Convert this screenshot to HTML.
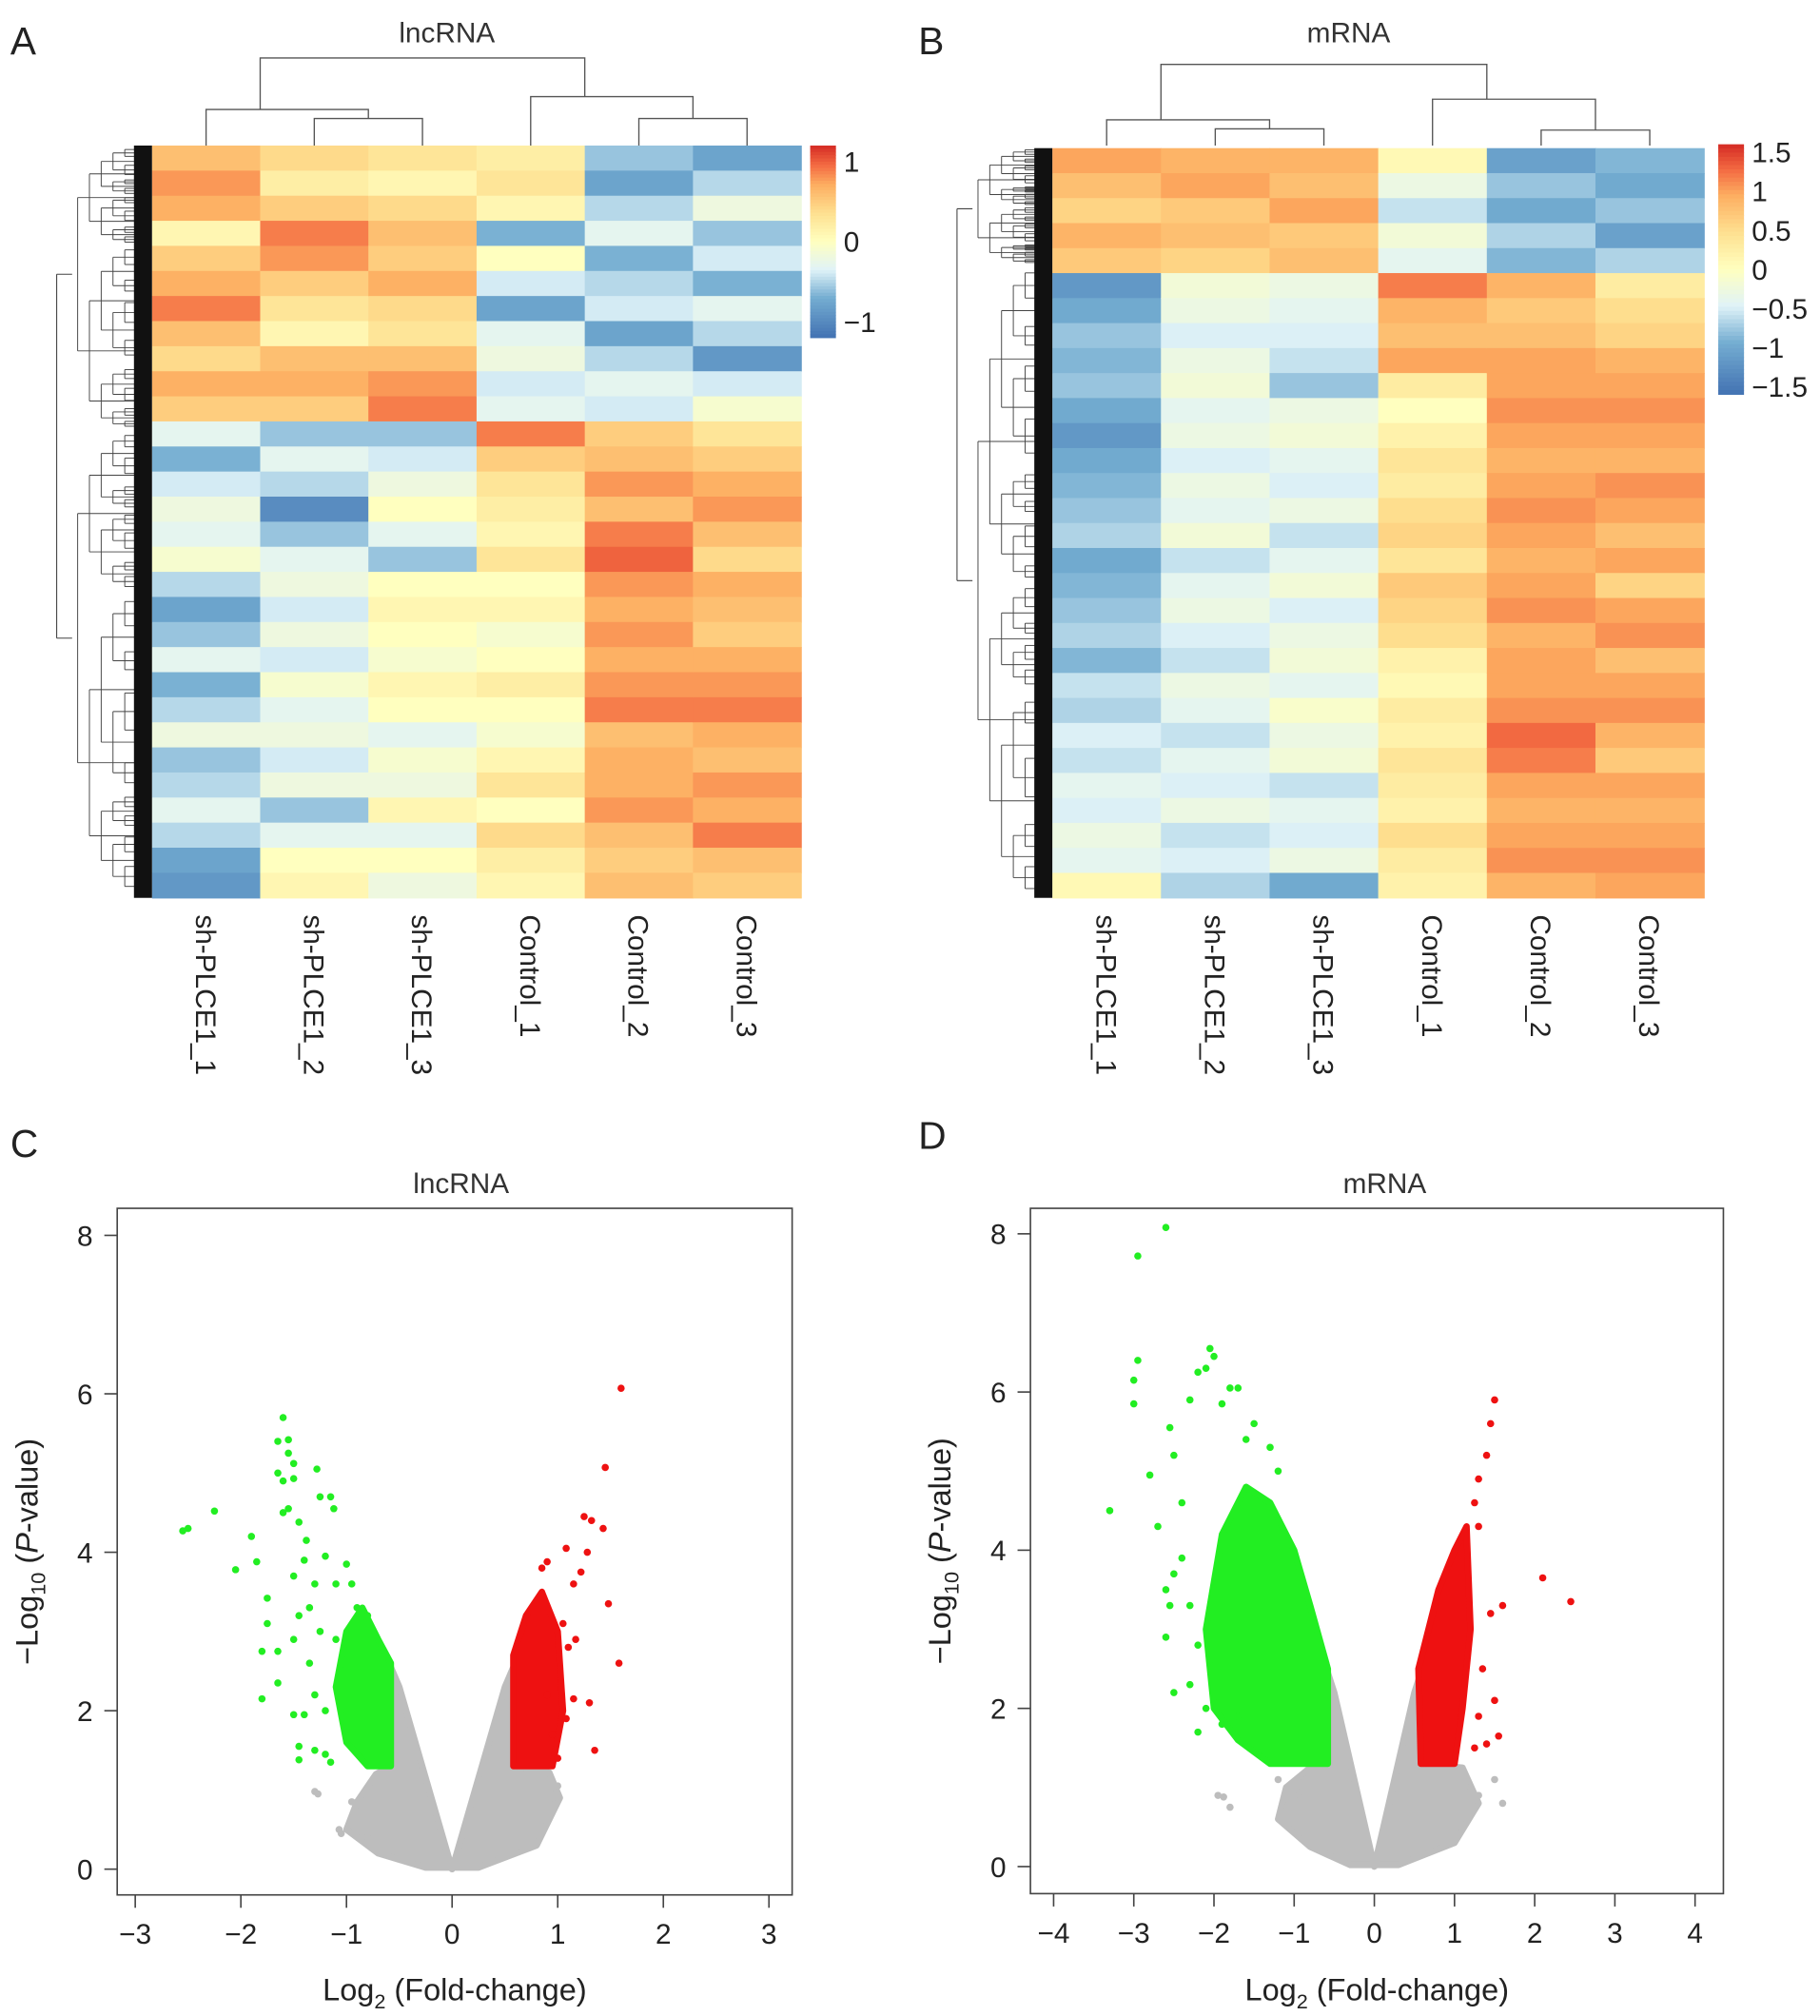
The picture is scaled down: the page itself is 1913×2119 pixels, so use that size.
<!DOCTYPE html>
<html><head><meta charset="utf-8">
<style>
html,body{margin:0;padding:0;background:#fff;}
svg{display:block;font-family:"Liberation Sans",sans-serif;}
</style></head>
<body>
<svg id="fig" width="1913" height="2119" viewBox="0 0 1413 1565" preserveAspectRatio="none" xmlns="http://www.w3.org/2000/svg">
<rect width="1413" height="1565" fill="#fff"/>
<g id="gA"></g>
<g id="gB"></g>
<g id="gC"></g>
<g id="gD"></g>
</svg>
<script>
const sampleNames = ["sh-PLCE1_1","sh-PLCE1_2","sh-PLCE1_3","Control_1","Control_2","Control_3"];
const lncValues = [
 [0.6,0.8,0.7,0.1,0.5,0.7,0.9,0.6,0.4,0.7,0.5,-0.3,-0.7,-0.4,-0.2,-0.3,-0.1,-0.5,-0.8,-0.6,-0.3,-0.7,-0.5,-0.2,-0.6,-0.5,-0.3,-0.5,-0.8,-0.9],
 [0.4,0.2,0.5,0.9,0.8,0.5,0.3,0.1,0.6,0.7,0.5,-0.6,-0.3,-0.5,-1.0,-0.6,-0.3,-0.2,-0.4,-0.2,-0.4,-0.1,-0.3,-0.2,-0.4,-0.2,-0.6,-0.3,0.0,0.1],
 [0.3,0.1,0.4,0.6,0.5,0.7,0.4,0.3,0.6,0.8,0.9,-0.6,-0.4,-0.2,0.0,-0.3,-0.6,0.0,0.1,0.0,-0.1,0.1,0.0,-0.3,-0.1,-0.2,0.1,-0.3,0.0,-0.2],
 [0.2,0.3,0.1,-0.7,0.0,-0.4,-0.8,-0.3,-0.2,-0.4,-0.3,0.9,0.5,0.3,0.2,0.1,0.3,0.0,0.1,-0.1,0.0,0.2,0.0,-0.1,0.1,0.3,0.0,0.4,0.2,0.1],
 [-0.6,-0.8,-0.5,-0.3,-0.7,-0.5,-0.4,-0.8,-0.5,-0.3,-0.4,0.5,0.6,0.8,0.6,0.9,1.0,0.8,0.7,0.8,0.7,0.8,0.9,0.6,0.7,0.7,0.8,0.6,0.5,0.6],
 [-0.8,-0.5,-0.2,-0.6,-0.4,-0.7,-0.3,-0.5,-0.9,-0.4,-0.1,0.3,0.5,0.7,0.8,0.6,0.4,0.7,0.6,0.5,0.7,0.8,0.9,0.7,0.6,0.8,0.7,0.9,0.6,0.5]
];
const mValues = [
 [1.0,0.8,0.6,0.9,0.7,-1.2,-1.0,-0.8,-0.9,-0.8,-1.0,-1.2,-1.0,-0.9,-0.8,-0.7,-1.0,-0.9,-0.8,-0.7,-0.9,-0.6,-0.7,-0.5,-0.6,-0.4,-0.5,-0.3,-0.4,0.1],
 [0.9,1.0,0.7,0.8,0.6,-0.2,-0.3,-0.5,-0.3,-0.2,-0.4,-0.3,-0.5,-0.3,-0.4,-0.2,-0.6,-0.4,-0.3,-0.5,-0.6,-0.3,-0.4,-0.6,-0.4,-0.5,-0.3,-0.6,-0.5,-0.7],
 [0.9,0.8,1.0,0.7,0.8,-0.3,-0.4,-0.5,-0.6,-0.8,-0.3,-0.2,-0.4,-0.5,-0.3,-0.6,-0.4,-0.2,-0.5,-0.3,-0.2,-0.4,-0.1,-0.3,-0.2,-0.6,-0.4,-0.5,-0.3,-1.0],
 [0.1,-0.3,-0.6,-0.2,-0.4,1.2,0.9,0.8,1.0,0.3,0.0,0.2,0.4,0.3,0.5,0.6,0.4,0.7,0.6,0.5,0.2,0.1,0.3,0.2,0.4,0.3,0.2,0.5,0.3,0.2],
 [-1.1,-0.8,-1.0,-0.7,-0.9,0.9,0.7,0.8,1.0,1.0,1.1,1.0,0.9,1.0,1.1,1.0,0.9,1.0,1.1,0.9,1.0,1.0,1.1,1.3,1.2,1.0,0.9,1.0,1.1,0.9],
 [-0.9,-1.0,-0.8,-1.1,-0.7,0.3,0.5,0.6,0.9,1.0,1.1,1.0,0.9,1.1,1.0,0.8,1.0,0.6,1.0,1.1,0.8,1.0,1.1,0.9,0.7,1.0,0.9,1.0,1.1,1.0]
];
const lncLegendTicks = [1,0,-1];
const mLegendTicks = [1.5,1,0.5,0,-0.5,-1,-1.5];
const volcXTicksC = [-3,-2,-1,0,1,2,3];
const volcXTicksD = [-4,-3,-2,-1,0,1,2,3,4];
const volcYTicks = [0,2,4,6,8];
const cGray = [[0,0],[-0.5,2.3],[-0.58,2.55],[-0.58,1.3],[-0.72,1.2],[-0.9,0.85],[-1.0,0.5],[-0.7,0.2],[-0.25,0.02],[0.25,0.02],[0.8,0.3],[1.02,0.9],[0.92,1.22],[0.58,1.3],[0.58,2.55],[0.5,2.3]];
const cGreenDense = [[-0.58,1.3],[-0.58,2.6],[-0.7,2.9],[-0.85,3.3],[-1.0,3.0],[-1.1,2.3],[-1.0,1.6],[-0.8,1.3]];
const cRedDense = [[0.58,1.3],[0.58,2.7],[0.7,3.2],[0.85,3.5],[1.0,3.0],[1.05,2.0],[0.95,1.3]];
const cGreenPts = [[-2.55,4.27],[-2.5,4.3],[-2.25,4.52],[-2.05,3.78],[-1.9,4.2],[-1.85,3.88],[-1.75,3.42],[-1.75,3.1],[-1.8,2.75],[-1.8,2.15],[-1.65,2.75],[-1.65,2.35],[-1.6,5.7],[-1.65,5.4],[-1.55,5.42],[-1.55,5.25],[-1.65,5.0],[-1.6,4.9],[-1.5,5.12],[-1.5,4.93],[-1.6,4.5],[-1.55,4.55],[-1.28,5.05],[-1.45,4.38],[-1.38,4.15],[-1.25,4.7],[-1.15,4.7],[-1.12,4.55],[-1.4,3.9],[-1.5,3.7],[-1.3,3.6],[-1.2,3.95],[-1.45,3.2],[-1.5,2.9],[-1.35,2.6],[-1.5,1.95],[-1.4,1.95],[-1.45,1.55],[-1.45,1.38],[-1.3,1.5],[-1.2,1.45],[-1.15,1.35],[-1.3,2.2],[-1.2,2.0],[-1.1,3.6],[-1.0,3.85],[-0.95,3.6],[-1.1,2.9],[-0.9,3.3],[-0.8,3.2],[-1.25,3.0],[-1.35,3.3]];
const cRedPts = [[1.6,6.07],[1.45,5.07],[1.25,4.45],[1.32,4.4],[1.43,4.3],[1.08,4.05],[1.28,4.0],[0.9,3.88],[1.22,3.75],[0.85,3.8],[1.15,3.6],[1.48,3.35],[1.05,3.1],[1.17,2.9],[1.1,2.8],[1.58,2.6],[1.3,2.1],[1.15,2.15],[1.35,1.5],[1.0,1.4],[0.95,1.7],[1.08,1.9],[0.9,2.2]];
const cGrayPts = [[-1.3,0.98],[-1.27,0.95],[-1.05,0.45],[-1.07,0.5],[-0.95,0.85],[-0.85,0.6],[-0.8,0.4],[0.95,0.9],[0.9,0.6],[1.0,1.05]];
const dGray = [[0,0],[-0.5,2.2],[-0.58,2.45],[-0.58,1.3],[-0.8,1.25],[-1.1,1.0],[-1.2,0.6],[-0.8,0.25],[-0.3,0.02],[0.3,0.02],[1.0,0.3],[1.3,0.8],[1.1,1.25],[0.58,1.3],[0.58,2.45],[0.5,2.2]];
const dGreenDense = [[-0.58,1.3],[-0.58,2.5],[-0.8,3.3],[-1.0,4.0],[-1.3,4.6],[-1.6,4.8],[-1.9,4.2],[-2.1,3.0],[-2.0,2.0],[-1.7,1.6],[-1.3,1.3]];
const dRedDense = [[0.58,1.3],[0.55,2.5],[0.8,3.5],[1.0,4.0],[1.15,4.3],[1.2,3.0],[1.1,2.0],[1.0,1.3]];
const dGreenPts = [[-2.6,8.08],[-2.95,7.72],[-2.95,6.4],[-3.0,6.15],[-3.0,5.85],[-3.3,4.5],[-2.8,4.95],[-2.7,4.3],[-2.55,5.55],[-2.5,5.2],[-2.4,4.6],[-2.05,6.55],[-2.0,6.45],[-2.1,6.3],[-2.2,6.25],[-1.8,6.05],[-1.7,6.05],[-1.9,5.85],[-2.3,5.9],[-2.4,3.9],[-2.5,3.7],[-2.55,3.3],[-2.6,2.9],[-2.3,3.3],[-2.2,2.8],[-2.3,2.3],[-2.1,2.0],[-1.9,1.8],[-1.7,1.9],[-1.5,5.6],[-1.3,5.3],[-1.2,5.0],[-1.6,5.4],[-2.6,3.5],[-2.5,2.2],[-2.2,1.7]];
const dRedPts = [[1.5,5.9],[1.45,5.6],[1.4,5.2],[1.3,4.9],[1.25,4.6],[1.3,4.3],[2.45,3.35],[2.1,3.65],[1.6,3.3],[1.45,3.2],[1.35,2.5],[1.5,2.1],[1.55,1.65],[1.3,1.9],[1.4,1.55],[1.25,1.5]];
const dGrayPts = [[-1.95,0.9],[-1.88,0.88],[-1.8,0.75],[-1.0,0.9],[-0.9,0.95],[-1.2,1.1],[1.5,1.1],[1.3,0.9],[1.2,1.0],[1.6,0.8]];

const NS = "http://www.w3.org/2000/svg";
function mk(parent, tag, attrs, text){
  const e = document.createElementNS(NS, tag);
  for (const k in attrs) e.setAttribute(k, attrs[k]);
  if (text !== undefined) e.textContent = text;
  parent.appendChild(e);
  return e;
}
const stops = [[-1,[69,117,180]],[-0.6,[116,173,209]],[-0.3,[224,243,248]],[0,[255,255,191]],[0.3,[254,224,144]],[0.6,[253,174,97]],[0.8,[244,109,67]],[1,[215,48,39]]];
function colorFor(t){
  t = Math.max(-1, Math.min(1, t));
  for (let i=0;i<stops.length-1;i++){
    const a=stops[i], b=stops[i+1];
    if (t>=a[0] && t<=b[0]){
      const f=(t-a[0])/(b[0]-a[0]);
      const c=a[1].map((v,j)=>Math.round(v+(b[1][j]-v)*f));
      return "rgb("+c.join(",")+")";
    }
  }
  return "rgb(215,48,39)";
}
function dendro(g, x0, x1, yTop, yBot, depth, maxDepth){
  const ym = (yTop+yBot)/2;
  if (depth >= maxDepth) return ym;
  const xs = x0 + (x1-x0)*(depth+1)/(maxDepth+1);
  const split = yTop + (yBot-yTop)*(0.35 + 0.3*((depth*7 + Math.round(yTop))%5)/4);
  const a = dendro(g, x0, x1, yTop, split, depth+1, maxDepth);
  const b = dendro(g, x0, x1, split, yBot, depth+1, maxDepth);
  const xp = x0 + (x1-x0)*depth/(maxDepth+1);
  mk(g,"line",{x1:xs,y1:a,x2:xs,y2:b,stroke:"#444","stroke-width":0.7});
  mk(g,"line",{x1:xs,y1:a,x2:x1,y2:a,stroke:"#444","stroke-width":0.7});
  mk(g,"line",{x1:xs,y1:b,x2:x1,y2:b,stroke:"#444","stroke-width":0.7});
  return (a+b)/2;
}
function heatmap(g, cfg){
  const {x0,x1,y0,y1,vals,vmax,title,letter,letterX,titleX,split,lx,ly0,ly1,ticks,colTree} = cfg;
  mk(g,"text",{x:letterX,y:42,"font-size":30,fill:"#222",},letter);
  mk(g,"text",{x:titleX,y:33,"font-size":22,"text-anchor":"middle",fill:"#333",},title);
  const ncol = vals.length, cw = (x1-x0)/ncol;
  for (let c=0;c<ncol;c++){
    const nr = vals[c].length, rh = (y1-y0)/nr;
    for (let r=0;r<nr;r++){
      const cell = mk(g,"rect",{x:x0+c*cw,y:y0+r*rh,width:cw+0.5,height:rh+0.5,fill:colorFor(vals[c][r]/vmax)});
      
      
    }
    const lab = mk(g,"text",{x:0,y:0,"font-size":22,fill:"#222",transform:`translate(${x0+(c+0.5)*cw-8},${y1+13}) rotate(90)`},sampleNames[c]);
    
    
  }
  // row dendrogram
  const dg = mk(g,"g",{});
  const top = dendro(dg, x0-76, x0-12, y0, split, 1, 6);
  const bot = dendro(dg, x0-76, x0-12, split, y1, 1, 6);
  mk(dg,"line",{x1:x0-74,y1:top,x2:x0-74,y2:bot,stroke:"#444","stroke-width":0.8});
  mk(dg,"line",{x1:x0-74,y1:top,x2:x0-62,y2:top,stroke:"#444","stroke-width":0.8});
  mk(dg,"line",{x1:x0-74,y1:bot,x2:x0-62,y2:bot,stroke:"#444","stroke-width":0.8});
  mk(dg,"rect",{x:x0-14,y:y0,width:14,height:y1-y0,fill:"#111"});
  // column dendrogram
  const cg = mk(g,"g",{});
  const cx = i => x0+(i+0.5)*cw;
  colTree.forEach(s=>{
    const xa = typeof s[0]==="number" && s[0]%1===0 ? cx(s[0]) : (cx(Math.floor(s[0]))+cx(Math.ceil(s[0])))/2;
    const xb = typeof s[1]==="number" && s[1]%1===0 ? cx(s[1]) : (cx(Math.floor(s[1]))+cx(Math.ceil(s[1])))/2;
    mk(cg,"path",{d:`M${xa},${s[3]}V${s[2]}H${xb}V${s[4]}`,fill:"none",stroke:"#555","stroke-width":1});
  });
  // legend
  const lg = mk(g,"g",{});
  const n=60;
  for (let i=0;i<n;i++){
    const t = 1 - 2*i/(n-1);
    mk(lg,"rect",{x:lx,y:ly0+i*(ly1-ly0)/n,width:20,height:(ly1-ly0)/n+0.5,fill:colorFor(t)});
  }
  ticks.forEach(t=>{
    const y = ly0 + (vmax-t)/(2*vmax)*(ly1-ly0);
    const tx = mk(lg,"text",{x:lx+26,y:y+8,"font-size":22,fill:"#222"},(t<0?"\u2212":"")+Math.abs(t));
    
    
  });
}
heatmap(document.getElementById("gA"),{x0:118,x1:622,y0:113,y1:697,vals:lncValues,vmax:1.2,title:"lncRNA",letter:"A",letterX:8,titleX:347,split:333,lx:629,ly0:113,ly1:262,ticks:lncLegendTicks,
  colTree:[[0.5,3.5,45,85,75],[0,1.5,85,113,92],[1,2,92,113,113],[3,4.5,75,113,92],[4,5,92,113,113]]});
heatmap(document.getElementById("gB"),{x0:817,x1:1323,y0:115,y1:697,vals:mValues,vmax:1.6,title:"mRNA",letter:"B",letterX:713,titleX:1047,split:205,lx:1334,ly0:112,ly1:306,ticks:mLegendTicks,
  colTree:[[0.5,3.5,50,93,77],[0,1.5,93,113,100],[1,2,100,113,113],[3,4.5,77,113,101],[4,5,101,113,113]]});
// fix legend text for B to not overlap: handled by tick positions

function volcano(g, cfg){
  const {bx0,bx1,by0,by1,xmin,xmax,xz,xu,yz,yu,xticks,title,titleX,letter,letterX,letterY,gray,green,red,gPts,rPts,grPts} = cfg;
  const X = v => xz + v*xu, Y = v => yz - v*yu;
  mk(g,"text",{x:letterX,y:letterY,"font-size":30,fill:"#222",},letter);
  mk(g,"text",{x:titleX,y:926,"font-size":22,"text-anchor":"middle",fill:"#333",},title);
  const poly = (pts,fill,name)=>{
    const p = mk(g,"polygon",{points:pts.map(p=>X(p[0])+","+Y(p[1])).join(" "),fill:fill,stroke:fill,"stroke-width":5,"stroke-linejoin":"round"});
    
    
  };
  poly(gray,"#bdbdbd","nonsignificant-region");
  const dots=(pts,fill,name)=>pts.forEach(p=>{
    const c = mk(g,"circle",{cx:X(p[0]),cy:Y(p[1]),r:2.8,fill:fill});
    
    
  });
  dots(grPts,"#bdbdbd","nonsignificant-point");
  poly(green,"#22ee22","downregulated-region");
  poly(red,"#ee1111","upregulated-region");
  dots(gPts,"#22ee22","downregulated-point");
  dots(rPts,"#ee1111","upregulated-point");
  mk(g,"rect",{x:bx0,y:by0,width:bx1-bx0,height:by1-by0,fill:"none",stroke:"#444","stroke-width":1.2,});
  xticks.forEach(t=>{
    mk(g,"line",{x1:X(t),y1:by1,x2:X(t),y2:by1+10,stroke:"#444","stroke-width":1.2});
    const tx = mk(g,"text",{x:X(t),y:by1+38,"font-size":22,"text-anchor":"middle",fill:"#222"},(t<0?"\u2212":"")+Math.abs(t));
    
    
  });
  volcYTicks.forEach(t=>{
    mk(g,"line",{x1:bx0,y1:Y(t),x2:bx0-10,y2:Y(t),stroke:"#444","stroke-width":1.2});
    const tx = mk(g,"text",{x:bx0-25,y:Y(t)+8,"font-size":22,"text-anchor":"middle",fill:"#222"},String(t));
    
    
  });
  const xt = mk(g,"text",{x:(bx0+bx1)/2,y:1553,"font-size":24,"text-anchor":"middle",fill:"#222",});
  xt.innerHTML = 'Log<tspan font-size="16" dy="6">2</tspan><tspan dy="-6"> (Fold-change)</tspan>';
  const yt = mk(g,"text",{x:0,y:0,"font-size":24,"text-anchor":"middle",fill:"#222",transform:`translate(${bx0-62},${(by0+by1)/2}) rotate(-90)`,});
  yt.innerHTML = '\u2212Log<tspan font-size="16" dy="6">10</tspan><tspan dy="-6"> (</tspan><tspan font-style="italic">P</tspan><tspan>-value)</tspan>';
}
volcano(document.getElementById("gC"),{bx0:91,bx1:615,by0:938,by1:1471,xz:351,xu:82,yz:1451,yu:61.5,xticks:volcXTicksC,title:"lncRNA",titleX:358,letter:"C",letterX:8,letterY:898,gray:cGray,green:cGreenDense,red:cRedDense,gPts:cGreenPts,rPts:cRedPts,grPts:cGrayPts});
volcano(document.getElementById("gD"),{bx0:800,bx1:1338,by0:938,by1:1470,xz:1067,xu:62.25,yz:1449,yu:61.4,xticks:volcXTicksD,title:"mRNA",titleX:1075,letter:"D",letterX:713,letterY:892,gray:dGray,green:dGreenDense,red:dRedDense,gPts:dGreenPts,rPts:dRedPts,grPts:dGrayPts});
</script>
</body></html>
